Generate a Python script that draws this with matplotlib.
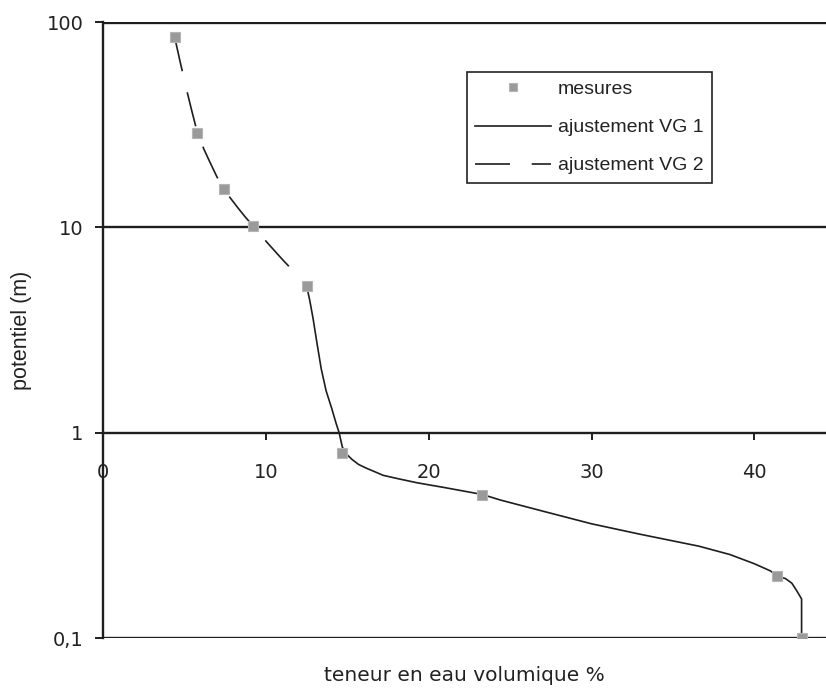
import matplotlib.pyplot as plt
from matplotlib.ticker import FixedLocator, FixedFormatter, NullLocator

# mesures (teneur en eau %, potentiel m)
theta_mes = [4.4, 5.8, 7.4, 9.2, 12.5, 14.7, 23.3, 41.4, 42.9]
h_mes = [84.5, 28.8, 15.4, 10.2, 5.2, 0.80, 0.50, 0.20, 0.10]

# ajustement VG 1 (partie humide)
theta_vg1 = [12.5, 12.7, 12.9, 13.15, 13.4, 13.7, 14.05, 14.3, 14.5, 14.7, 15.0,
             15.3, 15.7, 16.2, 16.7, 17.2, 18.2, 19.3, 21.0, 23.3, 24.4, 27.0,
             30.0, 33.0, 36.6, 38.5, 40.0, 41.0, 41.4, 41.9, 42.3, 42.6, 42.9, 42.9]
h_vg1 = [5.2, 4.4, 3.6, 2.7, 2.05, 1.6, 1.31, 1.12, 1.0, 0.85, 0.78,
         0.74, 0.70, 0.67, 0.645, 0.62, 0.595, 0.57, 0.54, 0.50, 0.47, 0.415,
         0.36, 0.32, 0.28, 0.255, 0.23, 0.212, 0.20, 0.195, 0.185, 0.17, 0.155, 0.10]

# ajustement VG 2 (partie sèche)
theta_vg2 = [4.4, 4.7, 5.1, 5.45, 5.8, 6.2, 6.6, 7.0, 7.4, 7.85, 8.3, 8.75, 9.2,
             10.1, 11.0, 11.8, 12.5]
h_vg2 = [84.5, 66.0, 48.0, 37.0, 28.8, 24.0, 20.5, 17.6, 15.4, 13.8, 12.4, 11.2, 10.2,
         8.4, 7.0, 6.0, 5.2]

y_ticks = [0.1, 1, 10, 100]
y_labels = ["0,1", "1", "10", "100"]
x_ticks = [0, 10, 20, 30, 40]

plt.rcParams['font.family'] = ['Liberation Sans', 'DejaVu Sans']

fig = plt.figure(figsize=(8.26, 6.89), dpi=100)
ax = fig.add_axes([0.1247, 0.074, 0.8753, 0.894])
ax.set_yscale('log')
ax.set_ylim(0.1, 100)
ax.set_xlim(0, 44.4)

line_col = '#1e1e1e'

# lignes horizontales à chaque décade
ax.axhline(100, color=line_col, lw=2.4, zorder=1)
ax.axhline(10, color=line_col, lw=1.7, zorder=1)
ax.axhline(0.1, color=line_col, lw=1.7, zorder=1)

ax.plot(theta_vg1, h_vg1, color=line_col, lw=1.2, label='ajustement VG 1', zorder=2)
ax.plot(theta_vg2, h_vg2, color=line_col, lw=1.2, linestyle=(0, (21, 13)),
        label='ajustement VG 2', zorder=2)
ax.plot(theta_mes, h_mes, linestyle='none', marker='s', markersize=7,
        markerfacecolor='#9a9a9a', markeredgecolor='#b5b5b5', markeredgewidth=0.8,
        label='mesures', zorder=3)

# axe des x placé sur la ligne h = 1
ax.spines['top'].set_visible(False)
ax.spines['right'].set_visible(False)
ax.spines['bottom'].set_position(('data', 1))
ax.spines['bottom'].set_color(line_col)
ax.spines['bottom'].set_linewidth(1.7)
ax.spines['left'].set_color(line_col)
ax.spines['left'].set_linewidth(1.7)

ax.xaxis.set_major_locator(FixedLocator(x_ticks))
ax.xaxis.set_minor_locator(NullLocator())
ax.tick_params(axis='x', direction='out', length=5, width=1.4, color=line_col,
               pad=17, labelsize=14, labelcolor='#222222')
for lab in ax.get_xticklabels():
    lab.set_family('DejaVu Sans')

ax.yaxis.set_major_locator(FixedLocator(y_ticks))
ax.yaxis.set_major_formatter(FixedFormatter(y_labels))
ax.yaxis.set_minor_locator(NullLocator())
ax.tick_params(axis='y', direction='out', length=6, width=1.4, color=line_col,
               pad=8, labelsize=14, labelcolor='#222222')
for lab in ax.get_yticklabels():
    lab.set_family('DejaVu Sans')

ax.set_xlabel('teneur en eau volumique %', fontsize=14.5, color='#222222',
              family='DejaVu Sans')
ax.xaxis.set_label_coords(0.5, -0.045)
ax.set_ylabel('potentiel (m)', fontsize=15.5, color='#222222')
ax.yaxis.set_label_coords(-0.098, 0.5)

handles, labels = ax.get_legend_handles_labels()
order = [2, 0, 1]
leg = ax.legend([handles[i] for i in order], [labels[i] for i in order],
                loc='upper left', bbox_to_anchor=(0.503, 0.919), borderaxespad=0,
                fontsize=14, handlelength=3.9, handletextpad=0.35,
                labelspacing=1.05, borderpad=0.45, fancybox=False, framealpha=1,
                edgecolor='#222222', markerscale=0.8)
leg.get_frame().set_linewidth(1.2)
for t in leg.get_texts():
    t.set_color('#222222')

fig.savefig('out.png', dpi=100)
